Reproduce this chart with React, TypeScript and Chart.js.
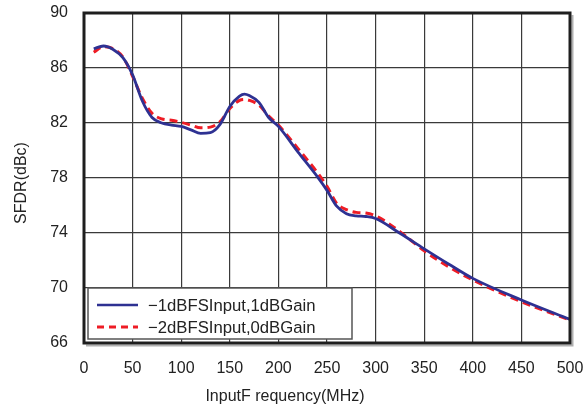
import React, { useEffect, useRef } from "react";
import { Chart, registerables } from "chart.js";

Chart.register(...registerables);

const frequency = [10, 20, 30, 40, 50, 60, 70, 80, 90, 100, 110, 120, 130, 140, 150, 160, 165, 170, 180, 190, 200, 220, 240, 250, 260, 270, 280, 290, 300, 325, 350, 375, 400, 450, 500];
const sfdrMinus1 = [87.4, 87.6, 87.35, 86.75, 85.5, 83.6, 82.4, 82.0, 81.85, 81.75, 81.5, 81.25, 81.3, 81.9, 83.2, 83.95, 84.1, 84.0, 83.5, 82.4, 81.75, 79.9, 78.1, 77.1, 75.95, 75.4, 75.25, 75.2, 75.05, 73.98, 72.85, 71.75, 70.7, 69.13, 67.72];
const sfdrMinus2 = [87.15, 87.55, 87.4, 86.8, 85.4, 83.8, 82.7, 82.3, 82.2, 82.05, 81.85, 81.65, 81.7, 82.1, 83.05, 83.65, 83.72, 83.65, 83.3, 82.5, 81.85, 80.15, 78.4, 77.4, 76.15, 75.7, 75.5, 75.45, 75.25, 74.1, 72.7, 71.55, 70.58, 69.0, 67.67];
const seriesLabels = ["−1dBFSInput,1dBGain", "−2dBFSInput,0dBGain"];
const xTitle = "InputF requency(MHz)";
const yTitle = "SFDR(dBc)";

const BLUE = "#2e3192";
const RED = "#ee1c25";
const FONT = "'Liberation Sans', Arial, Helvetica, sans-serif";

const overlayPlugin = {
  id: "overlay",
  afterDraw(chart: any) {
    const { ctx, chartArea } = chart;
    const { left, right, top, bottom } = chartArea;
    ctx.save();
    // shadow
    ctx.strokeStyle = "#b0b0b0";
    ctx.lineWidth = 2;
    ctx.beginPath();
    ctx.moveTo(right + 2.5, top + 2);
    ctx.lineTo(right + 2.5, bottom + 2.5);
    ctx.lineTo(left + 2, bottom + 2.5);
    ctx.stroke();
    // frame
    ctx.strokeStyle = "#1e1e1e";
    ctx.lineWidth = 3;
    ctx.strokeRect(left, top, right - left, bottom - top);

    // legend
    const lx = left + 4;
    const ly = bottom - 55;
    const lw = 264;
    const lh = 51;
    ctx.fillStyle = "#ffffff";
    ctx.fillRect(lx, ly, lw, lh);
    ctx.strokeStyle = "#555555";
    ctx.lineWidth = 1.5;
    ctx.strokeRect(lx, ly, lw, lh);

    const rows = [
      { color: BLUE, dash: [] as number[], y: ly + 17 },
      { color: RED, dash: [7, 5], y: ly + 39 },
    ];
    rows.forEach((r, i) => {
      ctx.strokeStyle = r.color;
      ctx.lineWidth = i === 0 ? 2.6 : 2.8;
      ctx.setLineDash(r.dash);
      ctx.beginPath();
      ctx.moveTo(lx + 9, r.y);
      ctx.lineTo(lx + 50, r.y);
      ctx.stroke();
      ctx.setLineDash([]);
      ctx.fillStyle = "#222222";
      ctx.font = `16.7px ${FONT}`;
      ctx.textAlign = "left";
      ctx.textBaseline = "middle";
      ctx.fillText(seriesLabels[i], lx + 60, r.y + 1);
    });

    // axis titles
    ctx.fillStyle = "#222222";
    ctx.font = `16px ${FONT}`;
    ctx.textAlign = "center";
    ctx.textBaseline = "middle";
    ctx.fillText(xTitle, 285, 397);
    ctx.translate(22, 183);
    ctx.rotate(-Math.PI / 2);
    ctx.fillText(yTitle, 0, 0);
    ctx.restore();
  },
};

export default function App() {
  const ref = useRef<HTMLCanvasElement | null>(null);
  useEffect(() => {
    if (!ref.current) return;
    const chart = new Chart(ref.current, {
      type: "line",
      data: {
        datasets: [
          {
            label: seriesLabels[0],
            data: frequency.map((f, i) => ({ x: f, y: sfdrMinus1[i] })),
            borderColor: BLUE,
            borderWidth: 2.8,
            pointRadius: 0,
            cubicInterpolationMode: "monotone",
            fill: false,
          },
          {
            label: seriesLabels[1],
            data: frequency.map((f, i) => ({ x: f, y: sfdrMinus2[i] })),
            borderColor: RED,
            borderWidth: 3,
            borderDash: [8, 5],
            pointRadius: 0,
            cubicInterpolationMode: "monotone",
            fill: false,
          },
        ],
      },
      options: {
        animation: false,
        responsive: false,
        layout: { padding: { top: 13, right: 16, left: 0, bottom: 0 } },
        plugins: { legend: { display: false }, tooltip: { enabled: false } },
        scales: {
          x: {
            type: "linear",
            min: 0,
            max: 500,
            ticks: { stepSize: 50, color: "#222", font: { size: 16, family: FONT }, padding: 16, maxRotation: 0 },
            grid: { color: "#3a3a3a", lineWidth: 1.2, drawTicks: false },
            border: { display: false },
            afterFit: (s: any) => {
              s.height = 62;
              s.paddingLeft = 0;
              s.paddingRight = 0;
              s.paddingTop = 0;
              s.paddingBottom = 0;
            },
          },
          y: {
            min: 66,
            max: 90,
            ticks: { stepSize: 4, color: "#222", font: { size: 16, family: FONT }, padding: 16 },
            grid: { color: "#3a3a3a", lineWidth: 1.2, drawTicks: false },
            border: { display: false },
            afterFit: (s: any) => {
              s.width = 84;
              s.paddingLeft = 0;
              s.paddingRight = 0;
              s.paddingTop = 0;
              s.paddingBottom = 0;
            },
          },
        },
      },
      plugins: [overlayPlugin],
    } as any);
    return () => chart.destroy();
  }, []);
  return (
    <div style={{ position: "fixed", left: 0, top: 0, width: 586, height: 405, background: "#fff" }}>
      <canvas ref={ref} width={586} height={405} style={{ width: 586, height: 405, display: "block" }} />
    </div>
  );
}
